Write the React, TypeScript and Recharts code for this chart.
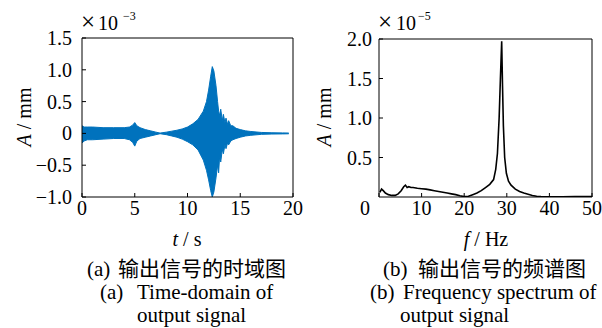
import { Area, ComposedChart, Line, ReferenceLine, XAxis, YAxis } from "recharts";

// (a) time-domain signal: upper / lower envelope of the output, x10^-3 mm
const timeS = [
  0, 0.2, 0.5, 1, 2, 3, 4, 4.5, 4.8, 5.0,
  5.2, 5.5, 6, 6.5, 7, 7.4, 8, 8.5, 9, 9.5,
  10, 10.5, 11, 11.5, 11.8, 12.0, 12.2, 12.35, 12.5, 12.7,
  12.85, 12.95, 13.05, 13.15, 13.3, 13.4, 13.55, 13.65, 13.8, 13.9,
  14.1, 14.3, 14.6, 15, 15.5, 16, 17, 18, 19, 19.6,
];
const envUpper = [
  0.12, 0.1, 0.1, 0.1, 0.09, 0.09, 0.09, 0.1, 0.13, 0.17,
  0.12, 0.09, 0.06, 0.04, 0.02, 0.005, 0.02, 0.035, 0.05, 0.07,
  0.1, 0.15, 0.22, 0.35, 0.5, 0.68, 0.9, 1.05, 0.98, 0.75,
  0.5, 0.35, 0.28, 0.38, 0.2, 0.3, 0.17, 0.24, 0.14, 0.2,
  0.12, 0.12, 0.08, 0.06, 0.04, 0.03, 0.015, 0.01, 0.008, 0.006,
];
const envLower = [
  -0.15, -0.12, -0.1, -0.1, -0.09, -0.08, -0.08, -0.1, -0.14, -0.2,
  -0.12, -0.08, -0.06, -0.04, -0.02, -0.005, -0.02, -0.04, -0.06, -0.09,
  -0.13, -0.18, -0.26, -0.42, -0.58, -0.73, -0.9, -1.0, -0.92, -0.7,
  -0.5, -0.62, -0.35, -0.45, -0.25, -0.32, -0.18, -0.24, -0.15, -0.18,
  -0.12, -0.1, -0.08, -0.06, -0.04, -0.03, -0.015, -0.01, -0.008, -0.006,
];
const timeTicks = [0, 5, 10, 15, 20];
const dispTicks = [-1, -0.5, 0, 0.5, 1, 1.5];

// (b) amplitude spectrum, x10^-5 mm
const freqHz = [
  0.2, 0.6, 1.0, 1.5, 2.2, 3.0, 3.8, 4.5, 5.2, 5.8,
  6.2, 6.6, 7.0, 7.5, 8, 9, 10, 11, 12, 13,
  14, 15, 16, 17, 18, 19, 20, 21, 22, 23,
  24, 25, 26, 26.9, 27.4, 27.8, 28.2, 28.5, 28.8, 29.0,
  29.2, 29.5, 29.9, 30.4, 31, 32, 33, 34, 35, 36,
  37, 38, 40, 43, 46, 50,
];
const specAmp = [
  0.06, 0.1, 0.08, 0.05, 0.03, 0.02, 0.02, 0.04, 0.08, 0.13,
  0.15, 0.12, 0.13, 0.12, 0.12, 0.11, 0.105, 0.1, 0.09, 0.08,
  0.07, 0.06, 0.05, 0.04, 0.03, 0.015, 0.005, 0.01, 0.03, 0.05,
  0.08, 0.12, 0.16, 0.22, 0.35, 0.55, 1.0, 1.5, 1.97, 1.4,
  0.9, 0.5, 0.3, 0.2, 0.15, 0.1, 0.07, 0.05, 0.035, 0.02,
  0.01, 0.005, 0.003, 0.003, 0.005, 0.006,
];
const freqTicks = [0, 10, 20, 30, 40, 50];
const specTicks = [0.5, 1, 1.5, 2];

const timeData = timeS.map((t, i) => ({ t, band: [envLower[i], envUpper[i]] }));
const specData = freqHz.map((f, i) => ({ f, a: specAmp[i] }));

const SERIF = "Liberation Serif, Times New Roman, serif";
const CJK = "Noto Sans CJK SC, sans-serif";

const fmt1 = (v: number) =>
  v === 0 ? "0" : (v < 0 ? "\u2212" : "") + Math.abs(v).toFixed(1);

// bottom-axis tick label; zeroShift moves the "0" left of the corner
function XTick(props: any) {
  const { x, y, payload, zeroShift = 0 } = props;
  const dx = payload.value === 0 ? zeroShift : 0;
  return (
    <text
      x={x + dx}
      y={y}
      dy="0.71em"
      textAnchor="middle"
      style={{ fontFamily: SERIF, fontSize: 20 }}
      fill="#000"
    >
      {payload.value}
    </text>
  );
}

function YTick(props: any) {
  const { x, y, payload } = props;
  return (
    <text
      x={x}
      y={y}
      dy="0.35em"
      textAnchor="end"
      style={{ fontFamily: SERIF, fontSize: 20 }}
      fill="#000"
    >
      {fmt1(payload.value)}
    </text>
  );
}

function TimeChart() {
  return (
    <ComposedChart
      width={312}
      height={250}
      data={timeData}
      margin={{ top: 38, right: 19, left: 32, bottom: 23 }}
    >
      <XAxis
        dataKey="t"
        type="number"
        domain={[0, 20]}
        ticks={timeTicks}
        height={30}
        tickSize={-4}
        tickMargin={8}
        stroke="#000"
        tick={(p: any) => <XTick {...p} />}
      />
      <YAxis
        type="number"
        domain={[-1, 1.5]}
        ticks={dispTicks}
        width={50}
        tickSize={-4}
        tickMargin={14}
        stroke="#000"
        tick={(p: any) => <YTick {...p} />}
        allowDataOverflow
      />
      <ReferenceLine y={1.5} stroke="#000" />
      <ReferenceLine x={20} stroke="#000" />
      <Area
        dataKey="band"
        type="linear"
        stroke="#0072BD"
        strokeWidth={1}
        fill="#0072BD"
        fillOpacity={1}
        isAnimationActive={false}
      />
    </ComposedChart>
  );
}

function SpectrumChart() {
  return (
    <ComposedChart
      width={302}
      height={250}
      data={specData}
      margin={{ top: 39, right: 10, left: 29, bottom: 23 }}
    >
      <XAxis
        dataKey="f"
        type="number"
        domain={[0, 50]}
        ticks={freqTicks}
        height={30}
        tickSize={-4}
        tickMargin={8}
        stroke="#000"
        tick={(p: any) => <XTick {...p} zeroShift={-14} />}
      />
      <YAxis
        type="number"
        domain={[0, 2]}
        ticks={specTicks}
        width={50}
        tickSize={-4}
        tickMargin={11}
        stroke="#000"
        tick={(p: any) => <YTick {...p} />}
        allowDataOverflow
      />
      <ReferenceLine y={2} stroke="#000" />
      <ReferenceLine x={50} stroke="#000" />
      <Line
        dataKey="a"
        type="linear"
        stroke="#000"
        strokeWidth={1.6}
        dot={false}
        isAnimationActive={false}
      />
    </ComposedChart>
  );
}

export default function App() {
  return (
    <div
      style={{
        position: "absolute",
        left: 0,
        top: 0,
        width: 602,
        height: 328,
        background: "#fff",
        overflow: "hidden",
        fontFamily: SERIF,
      }}
    >
      <div style={{ position: "absolute", left: 0, top: 0 }}>
        <TimeChart />
      </div>
      <div style={{ position: "absolute", left: 300, top: 0 }}>
        <SpectrumChart />
      </div>
      <svg
        width={602}
        height={328}
        style={{
          position: "absolute",
          left: 0,
          top: 0,
          pointerEvents: "none",
          fontFamily: SERIF,
        }}
        fill="#000"
      >
        {/* scale factors */}
        <text x={81} y={30} fontSize={25}>×</text>
        <text x={98} y={30} fontSize={20}>10</text>
        <text x={123} y={20} fontSize={12}>{"\u22123"}</text>
        <text x={378} y={30} fontSize={25}>×</text>
        <text x={396} y={30} fontSize={20}>10</text>
        <text x={418} y={20} fontSize={12}>{"\u22125"}</text>

        {/* y titles */}
        <text transform="translate(31,117) rotate(-90)" textAnchor="middle" fontSize={20}>
          <tspan fontStyle="italic">A</tspan> / mm
        </text>
        <text transform="translate(331,117) rotate(-90)" textAnchor="middle" fontSize={20}>
          <tspan fontStyle="italic">A</tspan> / mm
        </text>

        {/* x titles */}
        <text x={187} y={246} textAnchor="middle" fontSize={20}>
          <tspan fontStyle="italic">t</tspan> / s
        </text>
        <text x={486} y={246} textAnchor="middle" fontSize={20}>
          <tspan fontStyle="italic">f</tspan> / Hz
        </text>

        {/* captions */}
        <text x={87} y={276} fontSize={21}>(a)</text>
        <text x={118} y={276} fontSize={21} style={{ fontFamily: CJK }}>输出信号的时域图</text>
        <text x={383} y={276} fontSize={21}>(b)</text>
        <text x={418} y={276} fontSize={21} style={{ fontFamily: CJK }}>输出信号的频谱图</text>

        <text x={100} y={299} fontSize={21}>(a)</text>
        <text x={137} y={299} fontSize={21}>Time-domain of</text>
        <text x={370} y={299} fontSize={21}>(b)</text>
        <text x={403} y={299} fontSize={21}>Frequency spectrum of</text>

        <text x={137} y={322} fontSize={21}>output signal</text>
        <text x={400} y={322} fontSize={21}>output signal</text>
      </svg>
    </div>
  );
}
